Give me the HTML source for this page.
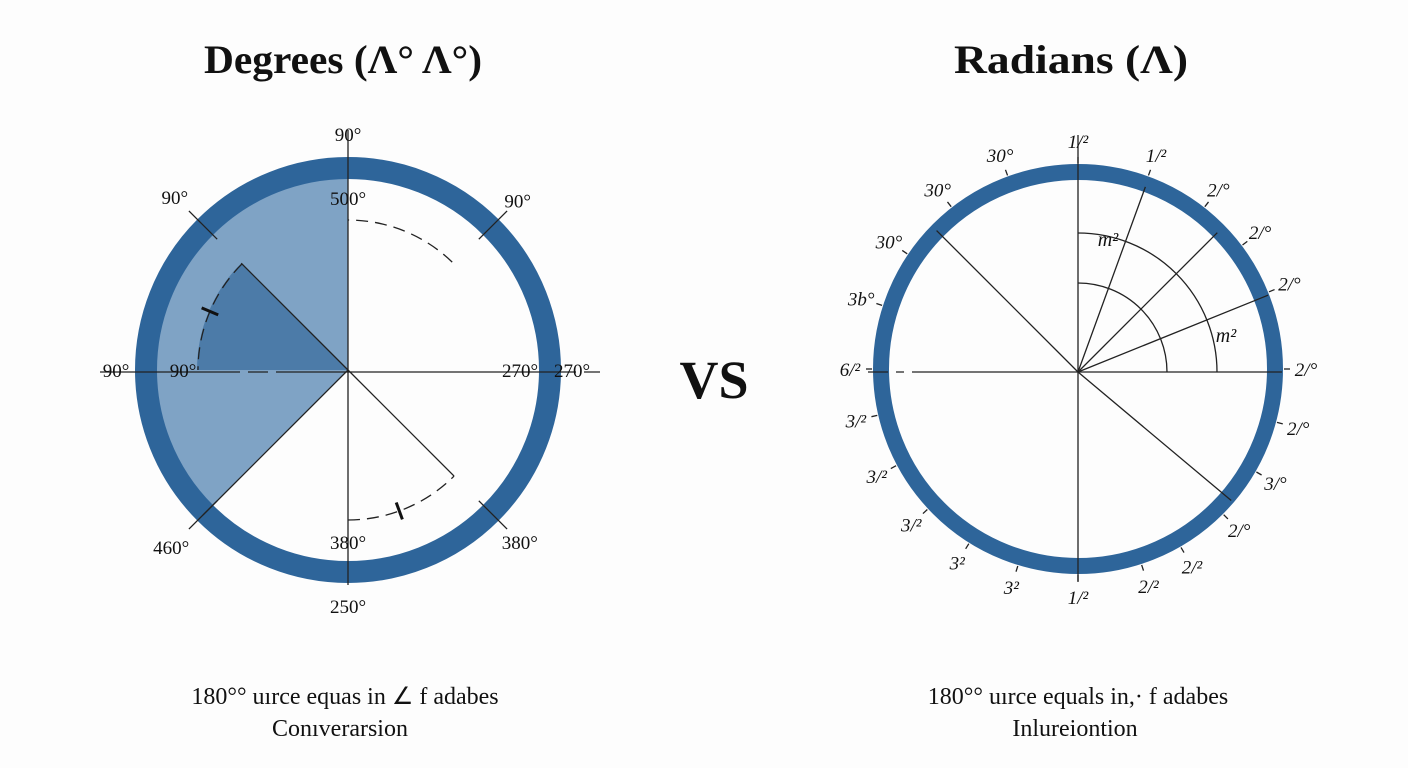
<!DOCTYPE html>
<html><head><meta charset="utf-8"><style>
html,body{margin:0;padding:0;background:#fdfdfd;}
svg{display:block;}
text{font-family:"Liberation Serif",serif;fill:#111;}
</style></head><body>
<svg id="chart" width="1408" height="768" viewBox="0 0 1408 768">
<rect width="1408" height="768" fill="#fdfdfd"/>
<text x="204" y="73" font-size="40" font-weight="bold" textLength="278" lengthAdjust="spacingAndGlyphs">Degrees (Λ° Λ°)</text>
<text x="954" y="73" font-size="40" font-weight="bold" textLength="234" lengthAdjust="spacingAndGlyphs">Radians (Λ)</text>
<text x="714" y="398" font-size="54" font-weight="bold" text-anchor="middle">VS</text>
<text x="345" y="704" font-size="24" text-anchor="middle">180°° uırce equas in ∠ f adabes</text>
<text x="340" y="736" font-size="24" text-anchor="middle">Conıverarsion</text>
<text x="1078" y="704" font-size="24" text-anchor="middle">180°° uırce equals in,· f adabes</text>
<text x="1075" y="736" font-size="24" text-anchor="middle">Inlureiontion</text>
<g id="left"></g>
<g id="right"></g>
</svg>
<script>
// Left (degrees) data
const leftLabels = ["90°","500°","90°","90°","90°","90°","270°","270°","460°","380°","380°","250°"];
const leftLabelAngles = [90,90,135,45,180,180,0,0,225,270,315,270];
const leftLabelRadii = [236,172,245,240,232,165,172,224,250,172,243,236];
const shadeStart = 90, shadeEnd = 225;
const darkStart = 135, darkEnd = 180;
// Right (radians) data
const rightLabels = ["1/²","1/²","2/°","2/°","2/°","2/°","2/°","3/°","2/°","2/²","2/²","1/²","3²","3²","3/²","3/²","3/²","6/²","3b°","30°","30°","30°"];
const rightLabelAngles = [90,70,52,37,22,0,-15,-30,-45,-60,-72,-90,-107,-122,-137,-152,-167,180,162,146,128,110];
const rightRays = [70,45,22,135,-40];
const arcRadii = [89,139];
const mLabels = ["m²","m²"];

const NS="http://www.w3.org/2000/svg";
function mk(parent,tag,attrs){const e=document.createElementNS(NS,tag);for(const k in attrs)e.setAttribute(k,attrs[k]);parent.appendChild(e);return e;}
function pt(cx,cy,r,a){const t=a*Math.PI/180;return [cx+r*Math.cos(t),cy-r*Math.sin(t)];}
function arcPath(cx,cy,r,a0,a1){const p0=pt(cx,cy,r,a0),p1=pt(cx,cy,r,a1);const large=Math.abs(a1-a0)>180?1:0;return `M${p0[0]},${p0[1]} A${r},${r} 0 ${large} ${a1>a0?0:1} ${p1[0]},${p1[1]}`;}
function sector(cx,cy,r,a0,a1){const p0=pt(cx,cy,r,a0),p1=pt(cx,cy,r,a1);return `M${cx},${cy} L${p0[0]},${p0[1]} A${r},${r} 0 ${a1-a0>180?1:0} 0 ${p1[0]},${p1[1]} Z`;}

// LEFT
const L=document.getElementById('left');const lcx=348,lcy=370,lR=202;
let e;
e=mk(L,'path',{d:sector(lcx,lcy,lR,shadeStart,shadeEnd),fill:'#7fa3c5'});


e=mk(L,'path',{d:sector(lcx,lcy,151,darkStart,darkEnd),fill:'#4c7ba8'});


e=mk(L,'circle',{cx:lcx,cy:lcy,r:lR,fill:'none',stroke:'#2e659a','stroke-width':22});


mk(L,'line',{x1:lcx,y1:130,x2:lcx,y2:585,stroke:'#222','stroke-width':1.3});
mk(L,'line',{x1:100,y1:372,x2:600,y2:372,stroke:'#222','stroke-width':1.3,'stroke-dasharray':'140 8 20 8 300 8 20 8'});
[[135,0,151],[225,0,205],[315,0,150]].forEach(([a,r0,r1])=>{const p0=pt(lcx,lcy,r0,a),p1=pt(lcx,lcy,r1,a);mk(L,'line',{x1:p0[0],y1:p0[1],x2:p1[0],y2:p1[1],stroke:'#222','stroke-width':1.3});});
[135,45,225,315].forEach(a=>{const p0=pt(lcx,lcy,185,a),p1=pt(lcx,lcy,225,a);mk(L,'line',{x1:p0[0],y1:p0[1],x2:p1[0],y2:p1[1],stroke:'#222','stroke-width':1.3});});
[[46,90],[135,180],[270,315]].forEach(([a0,a1])=>{mk(L,'path',{d:arcPath(lcx,lcy,150,a0,a1),fill:'none',stroke:'#222','stroke-width':1.3,'stroke-dasharray':'12 7'});});
[[157],[290]].forEach(([a])=>{const p0=pt(lcx,lcy,141,a),p1=pt(lcx,lcy,159,a);mk(L,'line',{x1:p0[0],y1:p0[1],x2:p1[0],y2:p1[1],stroke:'#111','stroke-width':3});});
leftLabels.forEach((t,i)=>{const p=pt(lcx,lcy,leftLabelRadii[i],leftLabelAngles[i]);const tx=mk(L,'text',{x:p[0],y:p[1]+7,'font-size':19,'text-anchor':'middle'});tx.textContent=t;

});

// RIGHT
const Rg=document.getElementById('right');const rcx=1078,rcy=369,rR=197;
e=mk(Rg,'circle',{cx:rcx,cy:rcy,r:rR,fill:'none',stroke:'#2e659a','stroke-width':16});


mk(Rg,'line',{x1:rcx,y1:135,x2:rcx,y2:582,stroke:'#222','stroke-width':1.3});
mk(Rg,'line',{x1:868,y1:372,x2:1285,y2:372,stroke:'#222','stroke-width':1.3,'stroke-dasharray':'20 8 8 8 370 8 20'});
rightRays.forEach(a=>{const p1=pt(rcx,372,(a===22?205:a===70||a===45?197:200),a);const l=mk(Rg,'line',{x1:rcx,y1:372,x2:p1[0],y2:p1[1],stroke:'#222','stroke-width':1.3});

});
arcRadii.forEach(r=>{mk(Rg,'path',{d:arcPath(rcx,372,r,0,90),fill:'none',stroke:'#222','stroke-width':1.3});});
e=mk(Rg,'text',{x:1108,y:246,'font-size':20,'font-style':'italic','text-anchor':'middle'});e.textContent=mLabels[0];


e=mk(Rg,'text',{x:1226,y:342,'font-size':20,'font-style':'italic','text-anchor':'middle'});e.textContent=mLabels[1];


rightLabels.forEach((t,i)=>{const a=rightLabelAngles[i];const q0=pt(rcx,rcy,206,a),q1=pt(rcx,rcy,212,a);mk(Rg,'line',{x1:q0[0],y1:q0[1],x2:q1[0],y2:q1[1],stroke:'#222','stroke-width':1.3});
const p=pt(rcx,rcy,228,a);const tx=mk(Rg,'text',{x:p[0],y:p[1]+7,'font-size':19,'font-style':'italic','text-anchor':'middle'});tx.textContent=t;

});
</script>
</body></html>
